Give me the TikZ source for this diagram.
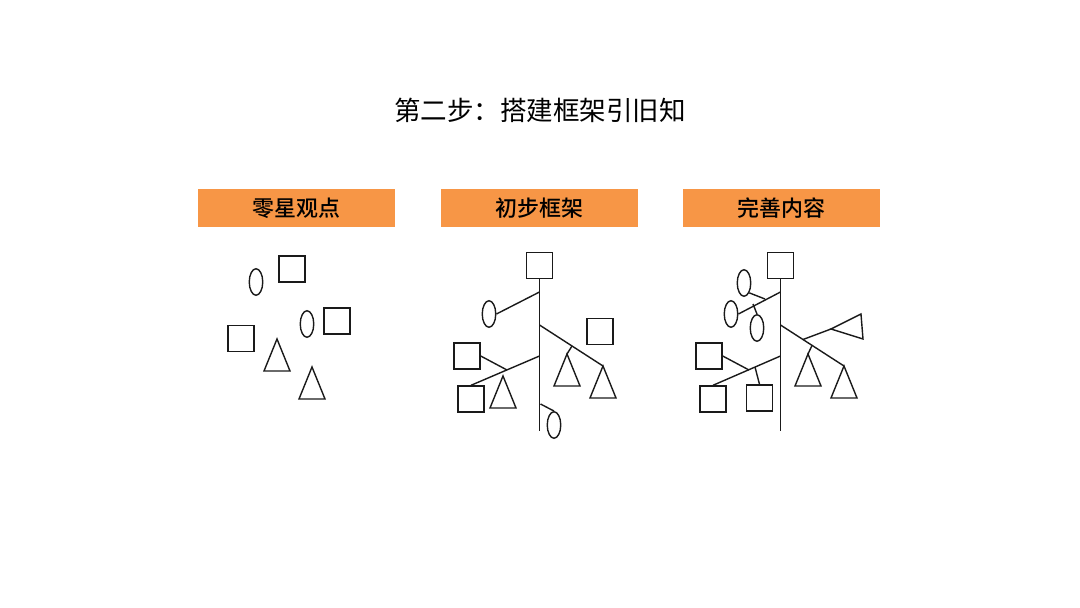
\documentclass[tikz,border=0pt]{standalone}
\usepackage{fontspec}
\usepackage{xcolor}
\usepackage{tikz}
\usetikzlibrary{shapes.geometric, positioning, calc}
\newfontfamily\cjk{Noto Sans CJK SC}[BoldFont={Noto Sans CJK SC Medium}]
\definecolor{boxorange}{HTML}{F79646}
\definecolor{ink}{HTML}{1A1A1A}
\tikzstyle{line} = [line width=0.8pt, draw=ink]
\tikzstyle{square} = [rectangle, draw=ink, line width=0.8pt, minimum size=0.52cm, inner sep=0]
\tikzstyle{oval} = [ellipse, draw=ink, line width=0.8pt, minimum width=0.27cm, minimum height=0.53cm, inner sep=0]
\tikzstyle{header} = [rectangle, fill=boxorange, minimum width=3.94cm, minimum height=0.76cm, text centered, font=\cjk\bfseries\fontsize{12.5}{14}\selectfont]

\begin{document}
\begin{tikzpicture}[x=0.02cm, y=-0.02cm]
    \useasboundingbox (0,0) rectangle (1080,608);

    % Titel
    \node (title) at (540,110) {\cjk\fontsize{15.1}{18}\selectfont 第二步：搭建框架引旧知};

    % Kopfleisten
    \node (h1) [header] at (296.5,208) {零星观点};
    \node (h2) [header] at (539.5,208) {初步框架};
    \node (h3) [header] at (781.5,208) {完善内容};

    % Teil 1: lose Punkte
    \node (p1o1) [oval] at (256,282) {};
    \node (p1s1) [square] at (292,269) {};
    \node (p1o2) [oval] at (307,324) {};
    \node (p1s2) [square] at (337,321) {};
    \node (p1s3) [square] at (241,338.5) {};
    \coordinate (p1t1) at (277,339);
    \coordinate (p1t2) at (312,367);
    \draw [line] (p1t1) -- ++(-13,32) -- ++(26,0) -- cycle;
    \draw [line] (p1t2) -- ++(-13,32) -- ++(26,0) -- cycle;

    % Teil 2: erster Rahmen
    \node (p2top) [square] at (539.5,265.5) {};
    \coordinate (p2end) at (539.5,431);
    \coordinate (p2b1) at (539.5,292);
    \coordinate (p2b2) at (539.5,325);
    \coordinate (p2b3) at (539.5,356);
    \coordinate (p2b4) at (540.5,404);
    \coordinate (p2k1) at (572,346);
    \coordinate (p2k2) at (507,370);
    \node (p2o1) [oval] at (489,314) {};
    \node (p2o2) [oval] at (554,425) {};
    \node (p2s1) [square] at (600,331.5) {};
    \node (p2s2) [square] at (467,356) {};
    \node (p2s3) [square] at (471,399) {};
    \coordinate (p2t1) at (567,354);
    \coordinate (p2t2) at (603,366);
    \coordinate (p2t3) at (503,376);
    \draw [line] (p2t1) -- ++(-13,32) -- ++(26,0) -- cycle;
    \draw [line] (p2t2) -- ++(-13,32) -- ++(26,0) -- cycle;
    \draw [line] (p2t3) -- ++(-13,32) -- ++(26,0) -- cycle;

    \draw [line] (p2top.south) -- (p2end);
    \draw [line] (p2b1) -- (p2o1.east);
    \draw [line] (p2b2) -- (p2t2);
    \draw [line] (p2k1) -- (p2t1);
    \draw [line] (p2b3) -- (p2s3.north);
    \draw [line] (p2s2.east) -- (p2k2);
    \draw [line] (p2b4) -- (p2o2.north);

    % Teil 3: ausgebauter Rahmen
    \node (p3top) [square] at (780.5,265.5) {};
    \coordinate (p3end) at (780.5,431);
    \coordinate (p3b1) at (780.5,292);
    \coordinate (p3b2) at (780.5,325);
    \coordinate (p3b3) at (780.5,356);
    \coordinate (p3k1) at (765,299);
    \coordinate (p3k2) at (753,304);
    \coordinate (p3k3) at (812,345.5);
    \coordinate (p3k4) at (803,339.5);
    \coordinate (p3k5) at (749,370);
    \coordinate (p3k6) at (755,367);
    \node (p3o1) [oval] at (731,314) {};
    \node (p3o2) [oval] at (744,283) {};
    \node (p3o3) [oval] at (757,328) {};
    \node (p3s1) [square] at (709,356) {};
    \node (p3s2) [square] at (713,399) {};
    \node (p3s3) [square] at (759.5,398) {};
    \coordinate (p3t1) at (808,354);
    \coordinate (p3t2) at (844,366);
    \coordinate (p3t3) at (831,329);
    \draw [line] (p3t1) -- ++(-13,32) -- ++(26,0) -- cycle;
    \draw [line] (p3t2) -- ++(-13,32) -- ++(26,0) -- cycle;
    \draw [line] (p3t3) -- ++(30,-15) -- ++(2,25) -- cycle;

    \draw [line] (p3top.south) -- (p3end);
    \draw [line] (p3b1) -- (p3o1.east);
    \draw [line] (p3k1) -- (p3o2.south east);
    \draw [line] (p3k2) -- (p3o3.north);
    \draw [line] (p3b2) -- (p3t2);
    \draw [line] (p3k3) -- (p3t1);
    \draw [line] (p3k4) -- (p3t3);
    \draw [line] (p3b3) -- (p3s2.north);
    \draw [line] (p3s1.east) -- (p3k5);
    \draw [line] (p3k6) -- (p3s3.north);
\end{tikzpicture}
\end{document}
